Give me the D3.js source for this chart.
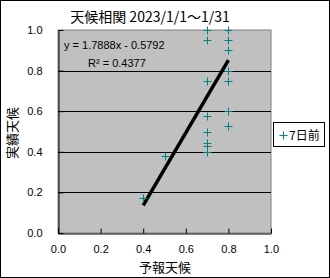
<!DOCTYPE html>
<html><head><meta charset="utf-8">
<script src="https://cdn.jsdelivr.net/npm/d3@7"></script>
<style>
body{margin:0;background:#fff;}
svg{display:block;}
text{font-family:"Liberation Sans","Noto Sans CJK JP",sans-serif;}
</style></head>
<body>
<svg id="c" width="330" height="278"></svg>
<script>
const title = "天候相関 2023/1/1～1/31";
const xLabel = "予報天候";
const yLabel = "実績天候";
const seriesName = "7日前";
const forecast = [0.4, 0.5, 0.7, 0.7, 0.7, 0.7, 0.7, 0.7, 0.7, 0.7, 0.8, 0.8, 0.8, 0.8, 0.8, 0.8, 0.8];
const actual   = [0.174, 0.38, 1.0, 0.95, 0.75, 0.575, 0.5, 0.445, 0.428, 0.40, 1.0, 0.95, 0.9, 0.8, 0.75, 0.6, 0.527];
const xTicks = [0, 0.2, 0.4, 0.6, 0.8, 1.0];
const yTicks = [0, 0.2, 0.4, 0.6, 0.8, 1.0];
const trendSlope = 1.7888, trendIntercept = -0.5792, trendR2 = 0.4377;
const trendRange = [0.4, 0.8];

const svg = d3.select("#c");
svg.append("rect").attr("x",0.5).attr("y",0.5).attr("width",329).attr("height",277)
  .attr("fill","#fff").attr("stroke","#000");

const L=58, R=271, T=30, B=233;
const x = d3.scaleLinear().domain([0,1]).range([L,R]);
const y = d3.scaleLinear().domain([0,1]).range([B,T]);

svg.append("rect").attr("x",L).attr("y",T).attr("width",R-L).attr("height",B-T)
  .attr("fill","#c0c0c0").attr("stroke","#808080");

// gridlines
svg.append("g").selectAll("line").data(yTicks.filter(d=>d>0&&d<1)).join("line")
  .attr("x1",L).attr("x2",R).attr("y1",d=>Math.round(y(d))+0.5).attr("y2",d=>Math.round(y(d))+0.5)
  .attr("stroke","#000");

// axes
const xAxis = svg.append("g").attr("transform",`translate(0,${B+0.5})`)
  .call(d3.axisBottom(x).tickValues(xTicks).tickFormat(d3.format(".1f")).tickSizeInner(-5).tickSizeOuter(0).tickPadding(12));
xAxis.select(".domain").attr("stroke","#000");
xAxis.selectAll("text").attr("font-size",11).attr("fill","#000");
const yAxis = svg.append("g").attr("transform",`translate(${L+0.5},0)`)
  .call(d3.axisLeft(y).tickValues(yTicks).tickFormat(d3.format(".1f")).tickSizeInner(-5).tickSizeOuter(0).tickPadding(16));
yAxis.select(".domain").attr("stroke","#000");
yAxis.selectAll("text").attr("font-size",11).attr("fill","#000");

// trendline
svg.append("line")
  .attr("x1",x(trendRange[0])).attr("y1",y(trendSlope*trendRange[0]+trendIntercept))
  .attr("x2",x(trendRange[1])).attr("y2",y(trendSlope*trendRange[1]+trendIntercept))
  .attr("stroke","#000").attr("stroke-width",3.5);

// markers
const pts = forecast.map((f,i)=>({f, a:actual[i]}));
const plus = "M-4,0H4M0,-4V4";
svg.append("g").selectAll("path").data(pts).join("path")
  .attr("transform",d=>`translate(${Math.round(x(d.f))+0.5},${Math.round(y(d.a))+0.5})`)
  .attr("d",plus).attr("stroke","#008080").attr("stroke-width",1).attr("fill","none");

// equation
svg.append("text").attr("x",64).attr("y",49).attr("font-size",11).text(`y = ${trendSlope}x - ${Math.abs(trendIntercept)}`);
svg.append("text").attr("x",88).attr("y",67).attr("font-size",11).text(`R² = ${trendR2}`);

// title
svg.append("text").attr("x",150).attr("y",22).attr("text-anchor","middle").attr("font-size",14)
  .style("font-family","'Noto Sans CJK JP',sans-serif").text(title);
// axis labels
svg.append("text").attr("x",165).attr("y",272).attr("text-anchor","middle").attr("font-size",13)
  .style("font-family","'Noto Sans CJK JP',sans-serif").text(xLabel);
svg.append("text").attr("transform","translate(17,133) rotate(-90)").attr("text-anchor","middle").attr("font-size",13)
  .style("font-family","'Noto Sans CJK JP',sans-serif").text(yLabel);

// legend
const lg = svg.append("g");
lg.append("rect").attr("x",273.5).attr("y",122.5).attr("width",51).attr("height",24).attr("fill","#fff").attr("stroke","#000");
lg.append("path").attr("transform","translate(283.5,135.5)").attr("d",plus).attr("stroke","#008080").attr("fill","none");
lg.append("text").attr("x",289).attr("y",140).attr("font-size",12)
  .style("font-family","'Noto Sans CJK JP',sans-serif").text(seriesName);
</script>
</body></html>
